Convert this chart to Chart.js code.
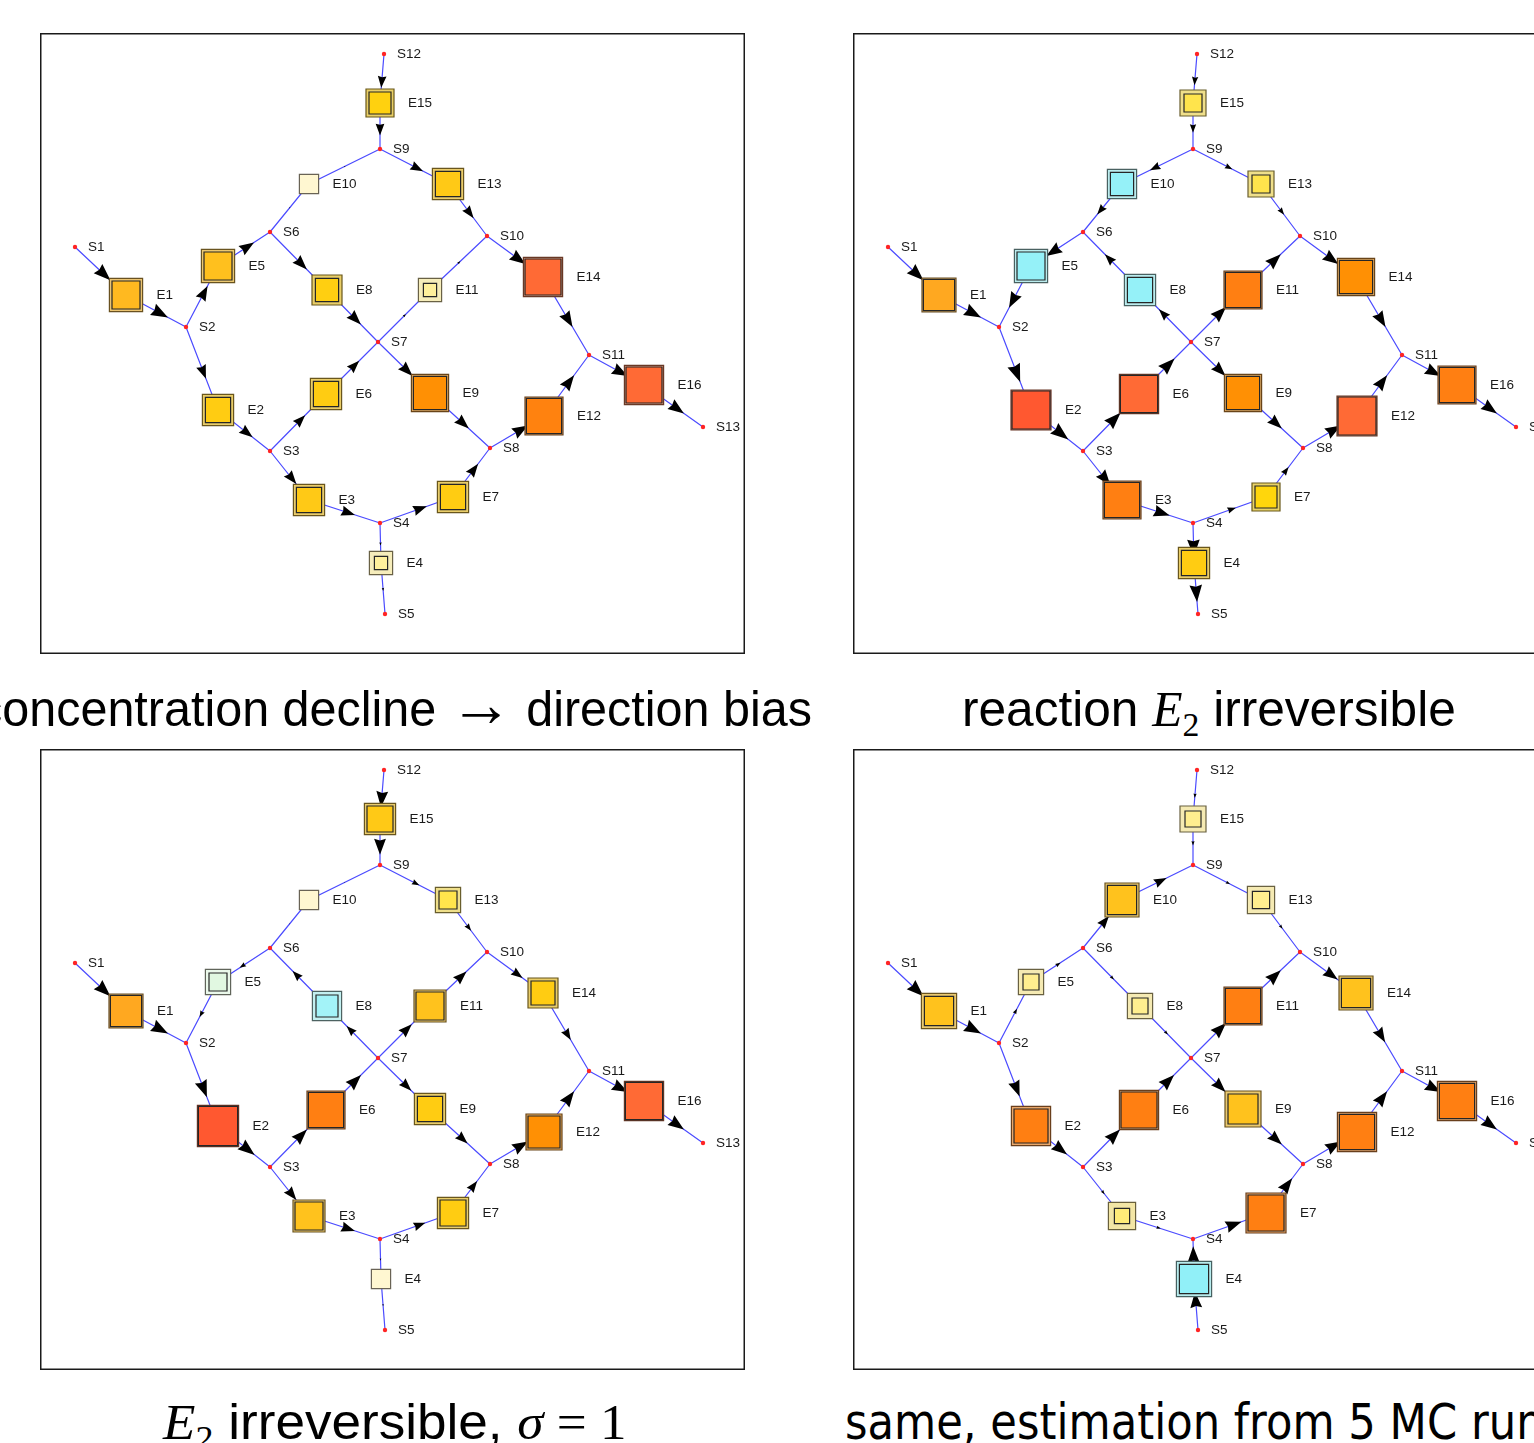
<!DOCTYPE html>
<html>
<head>
<meta charset="utf-8">
<script src="https://cdn.jsdelivr.net/npm/chart.js@4.4.1/dist/chart.umd.min.js"></script>
<style>
  html, body { margin: 0; padding: 0; background: #fff; }
  body { width: 1534px; height: 1443px; overflow: hidden; position: relative; }
  .panel { position: absolute; width: 705px; height: 621px; }
  .title { position: absolute; white-space: nowrap; color: #000; transform-origin: 0 0; line-height: 1.2; font-size: 50px; }
  .sans { font-family: 'Liberation Sans', sans-serif; }
  .sans2 { font-family: 'DejaVu Sans', sans-serif; }
  .arrow { font-family: 'Liberation Serif', serif; font-size: 1.3em; line-height: 0.5; }
  .mi { font-family: 'Liberation Serif', serif; font-style: italic; }
  .mr { font-family: 'Liberation Serif', serif; }
  .sub { font-family: 'Liberation Serif', serif; font-size: 0.68em; position: relative; top: 0.28em; }
  .bl { display: inline-block; width: 0; height: 0; }
</style>
</head>
<body>
<div class="panel" style="left:40px;top:33px"><canvas id="net1"></canvas></div>
<div class="panel" style="left:853px;top:33px"><canvas id="net2"></canvas></div>
<div class="panel" style="left:40px;top:749px"><canvas id="net3"></canvas></div>
<div class="panel" style="left:853px;top:749px"><canvas id="net4"></canvas></div>

<script>
// ---- network layout (layout units, origin top-left of the frame) ----
const species  = ['S1','S2','S3','S4','S5','S6','S7','S8','S9','S10','S11','S12','S13'];
const speciesX = [35, 146, 230, 340, 345, 230, 338, 450, 340, 447, 549, 344, 663];
const speciesY = [214, 294, 418, 490, 581, 199, 309, 415, 116, 203, 322, 21, 394];

const enzymes  = ['E1','E2','E3','E4','E5','E6','E7','E8','E9','E10','E11','E12','E13','E14','E15','E16'];
const enzymeX  = [86, 178, 269, 341, 178, 286, 413, 287, 390, 269, 390, 504, 408, 503, 340, 604];
const enzymeY  = [262, 377, 467, 530, 233, 361, 464, 257, 360, 151, 257, 383, 151, 244, 70, 352];
// nominal reaction direction: substrate -> product
const enzymeFrom = ['S1','S2','S3','S4','S2','S3','S4','S6','S7','S6','S7','S8','S9','S10','S12','S11'];
const enzymeTo   = ['S2','S3','S4','S5','S6','S7','S8','S7','S8','S9','S10','S11','S10','S11','S9','S13'];

// ---- per-scenario values (E1..E16) ----
// level: two enzyme levels drawn as concentric squares; response: colour value; flux: signed flux
const levelA1   = [0.83,0.78,0.78,0.58,0.83,0.78,0.78,0.75,0.93,0.48,0.58,0.95,0.78,0.98,0.70,0.98];
const levelB1   = [0.70,0.63,0.63,0.33,0.70,0.63,0.63,0.58,0.83,0.48,0.33,0.88,0.63,0.90,0.55,0.90];
const response1 = [0.60,0.50,0.52,0.12,0.57,0.50,0.50,0.48,0.75,0.02,0.12,0.83,0.52,0.92,0.46,0.92];
const flux1     = [1.00,0.81,0.81,0.19,0.88,0.75,0.81,0.88,0.88,0.09,0.19,0.94,0.75,0.94,0.69,0.94];

const levelA2   = [0.85,1.00,0.95,0.78,0.83,0.98,0.70,0.78,0.93,0.73,0.95,1.00,0.65,0.93,0.65,0.95];
const levelB2   = [0.78,0.95,0.88,0.63,0.70,0.93,0.55,0.63,0.83,0.58,0.88,0.95,0.45,0.83,0.45,0.88];
const response2 = [0.66,1.00,0.85,0.50,-0.90,0.92,0.42,-0.90,0.75,-0.90,0.85,0.92,0.30,0.75,0.30,0.85];
const flux2     = [1.00,1.06,0.94,1.00,-0.94,1.00,0.50,-0.69,0.88,-0.62,0.94,0.94,0.44,0.94,0.50,0.94];

const levelA3   = [0.85,1.03,0.80,0.48,0.63,0.95,0.78,0.73,0.78,0.48,0.80,0.90,0.63,0.75,0.78,0.98];
const levelB3   = [0.78,0.98,0.70,0.48,0.45,0.88,0.65,0.55,0.63,0.48,0.70,0.80,0.45,0.60,0.65,0.93];
const response3 = [0.66,1.00,0.56,0.02,-0.30,0.85,0.50,-0.75,0.50,0.02,0.56,0.75,0.30,0.50,0.52,0.92];
const flux3     = [1.00,1.00,0.81,0.12,-0.38,0.94,0.69,-0.62,0.75,0.06,0.81,0.94,0.44,0.69,0.94,0.94];

const levelA4   = [0.88,0.98,0.68,0.88,0.63,0.98,1.00,0.63,0.90,0.85,0.95,0.98,0.68,0.85,0.65,0.98];
const levelB4   = [0.73,0.85,0.38,0.73,0.40,0.90,0.90,0.40,0.75,0.73,0.88,0.88,0.43,0.73,0.40,0.88];
const response4 = [0.56,0.85,0.20,-0.95,0.15,0.85,0.85,0.15,0.56,0.56,0.85,0.85,0.15,0.56,0.15,0.85];
const flux4     = [1.00,0.94,0.25,-0.94,0.31,0.94,0.94,0.25,0.88,0.75,0.94,0.94,0.25,0.88,0.25,0.94];

const titles = [
  '<span class="sans">concentration decline <span class="arrow">\u2192</span> direction bias</span>',
  '<span class="sans">reaction <span class="mi">E</span><span class="sub">2</span> irreversible</span>',
  '<span class="mi">E</span><span class="sub">2</span><span class="sans"> irreversible, </span><span class="mi">\u03c3</span><span class="mr"> = 1</span>',
  '<span class="sans2">same, estimation from 5 MC runs</span>'
];

// ---- drawing constants ----
const BOX_PX = 40;       // pixels per unit enzyme level
const ARROW_PX = 17;     // arrow length for unit flux
const EDGE_COLOR = '#4b4bff';

const colorStops = [
  [-1.00, '#8ceff8'], [-0.70, '#a8f4f8'], [-0.35, '#dcf8e2'], [0.00, '#fff8dc'],
  [0.12, '#fff09c'], [0.30, '#ffe44c'], [0.42, '#ffd60c'], [0.50, '#ffcc12'],
  [0.58, '#ffbe20'], [0.66, '#ffa820'], [0.75, '#ff9004'], [0.85, '#ff7f12'],
  [0.92, '#ff6a35'], [1.00, '#ff5830']
];
function hexRgb(h) { return [1,3,5].map(i => parseInt(h.substr(i,2),16)); }
function rgbStr(c) { return 'rgb(' + c.map(v => Math.round(Math.max(0,Math.min(255,v)))).join(',') + ')'; }
function mix(a, b, t) { return a.map((v,i) => v*(1-t) + b[i]*t); }
function colormap(v) {
  if (v <= colorStops[0][0]) return hexRgb(colorStops[0][1]);
  for (let i = 1; i < colorStops.length; i++) {
    if (v <= colorStops[i][0]) {
      const [v0,c0] = colorStops[i-1], [v1,c1] = colorStops[i];
      return mix(hexRgb(c0), hexRgb(c1), (v - v0)/(v1 - v0));
    }
  }
  return hexRgb(colorStops[colorStops.length-1][1]);
}
// ring colour of the outer square: paler, and toned down for saturated colours
function ringColor(c) {
  const sat = (Math.max(...c) - Math.min(...c)) / 255;
  return mix(mix(c, [255,255,255], 0.4), [110,95,60], 0.16 * sat);
}

const sIndex = Object.fromEntries(species.map((s,i) => [s,i]));

const networkPlugin = {
  id: 'network',
  beforeDatasetsDraw(chart, args, opts) {
    const {ctx, scales: {x, y}} = chart;
    const P = (vx, vy) => [x.getPixelForValue(vx), y.getPixelForValue(vy)];
    ctx.save();
    ctx.strokeStyle = EDGE_COLOR;
    ctx.lineWidth = 1.2;
    enzymes.forEach((e, k) => {
      const a = P(speciesX[sIndex[enzymeFrom[k]]], speciesY[sIndex[enzymeFrom[k]]]);
      const m = P(enzymeX[k], enzymeY[k]);
      const b = P(speciesX[sIndex[enzymeTo[k]]], speciesY[sIndex[enzymeTo[k]]]);
      ctx.beginPath();
      ctx.moveTo(a[0], a[1]); ctx.lineTo(m[0], m[1]); ctx.lineTo(b[0], b[1]);
      ctx.stroke();
    });
    // flux arrows at the middle of each half-edge
    ctx.fillStyle = '#000';
    enzymes.forEach((e, k) => {
      const f = opts.flux[k];
      if (!f) return;
      const L = ARROW_PX * Math.abs(f);
      const a = P(speciesX[sIndex[enzymeFrom[k]]], speciesY[sIndex[enzymeFrom[k]]]);
      const m = P(enzymeX[k], enzymeY[k]);
      const b = P(speciesX[sIndex[enzymeTo[k]]], speciesY[sIndex[enzymeTo[k]]]);
      const segs = f > 0 ? [[a, m], [m, b]] : [[b, m], [m, a]];
      segs.forEach(([p, q]) => {
        const dx = q[0]-p[0], dy = q[1]-p[1], d = Math.hypot(dx, dy);
        const ux = dx/d, uy = dy/d;
        const mx = (p[0]+q[0])/2, my = (p[1]+q[1])/2;
        const tx = mx + ux*0.8*L, ty = my + uy*0.8*L;
        const bx = tx - ux*L, by = ty - uy*L;
        const w = 0.37*L;
        ctx.beginPath();
        ctx.moveTo(tx, ty);
        ctx.lineTo(bx - uy*w, by + ux*w);
        ctx.lineTo(bx + ux*0.1*L, by + uy*0.1*L);
        ctx.lineTo(bx + uy*w, by - ux*w);
        ctx.closePath();
        ctx.fill();
      });
    });
    ctx.restore();
  },
  afterDatasetsDraw(chart, args, opts) {
    const {ctx, scales: {x, y}} = chart;
    ctx.save();
    ctx.fillStyle = '#1a1a1a';
    ctx.font = '13.5px "Liberation Sans", Arial, sans-serif';
    ctx.textBaseline = 'middle';
    species.forEach((s, i) => {
      ctx.fillText(s, x.getPixelForValue(speciesX[i]) + 13, y.getPixelForValue(speciesY[i]));
    });
    enzymes.forEach((e, k) => {
      const half = BOX_PX * Math.max(opts.levelA[k], opts.levelB[k]) / 2;
      ctx.fillText(e, x.getPixelForValue(enzymeX[k]) + half + 14, y.getPixelForValue(enzymeY[k]));
    });
    // frame
    const w = chart.width, h = chart.height;
    ctx.strokeStyle = '#1a1a1a';
    ctx.lineWidth = 1.5;
    ctx.strokeRect(0.75, 0.75, w - 1.5, h - 1.5);
    ctx.restore();
  }
};

function buildNetwork(canvasId, levelA, levelB, response, flux) {
  const sPts = species.map((s, i) => ({x: speciesX[i], y: speciesY[i]}));
  const ePts = enzymes.map((e, k) => ({x: enzymeX[k], y: enzymeY[k]}));
  const main = response.map(colormap);
  const single = levelA.map((v, k) => Math.abs(v - levelB[k]) < 0.01);
  const outerSide = levelA.map((v, k) => BOX_PX * Math.max(v, levelB[k]));
  const innerSide = levelA.map((v, k) => BOX_PX * Math.min(v, levelB[k]));
  const outerFill = main.map((c, k) => rgbStr(single[k] ? c : ringColor(c)));
  const outerEdge = main.map(c => rgbStr(mix(c, [40,36,32], 0.7)));

  return new Chart(document.getElementById(canvasId), {
    type: 'scatter',
    data: {
      datasets: [
        { order: 0, data: sPts, pointRadius: 2.2, pointBackgroundColor: '#ff2424', pointBorderWidth: 0 },
        { order: 1, data: ePts, pointStyle: 'rect',
          pointRadius: innerSide.map((s, k) => single[k] ? 0 : s / Math.SQRT2),
          pointBackgroundColor: main.map(rgbStr), pointBorderColor: '#262626', pointBorderWidth: 1.2 },
        { order: 2, data: ePts, pointStyle: 'rect',
          pointRadius: outerSide.map(s => s / Math.SQRT2),
          pointBackgroundColor: outerFill, pointBorderColor: outerEdge, pointBorderWidth: 1.2 }
      ]
    },
    options: {
      responsive: true,
      maintainAspectRatio: false,
      animation: false,
      events: [],
      layout: { padding: 0, autoPadding: false },
      scales: {
        x: { type: 'linear', display: false, min: 0, max: 705 },
        y: { type: 'linear', display: false, min: 0, max: 621, reverse: true }
      },
      plugins: {
        legend: { display: false },
        tooltip: { enabled: false },
        network: { levelA, levelB, flux }
      }
    },
    plugins: [networkPlugin]
  });
}

buildNetwork('net1', levelA1, levelB1, response1, flux1);
buildNetwork('net2', levelA2, levelB2, response2, flux2);
buildNetwork('net3', levelA3, levelB3, response3, flux3);
buildNetwork('net4', levelA4, levelB4, response4, flux4);

// captions: centred under each frame, fitted to their width
const captionPlace = [
  {cx: 395,  width: 834, base: 726},
  {cx: 1209, width: 494, base: 726},
  {cx: 395,  width: 464, base: 1439},
  {cx: 1205, width: 721, base: 1439}
];
titles.forEach((html, i) => {
  const d = document.createElement('div');
  d.className = 'title';
  d.innerHTML = html + '<span class="bl"></span>';
  document.body.appendChild(d);
  const bl = d.querySelector('.bl');
  const natural = d.offsetWidth;
  const baseOff = bl.offsetTop;
  const p = captionPlace[i];
  d.style.left = (p.cx - p.width / 2) + 'px';
  d.style.top = (p.base - baseOff) + 'px';
  d.style.transform = 'scaleX(' + (p.width / natural) + ')';
});
</script>
</body>
</html>
